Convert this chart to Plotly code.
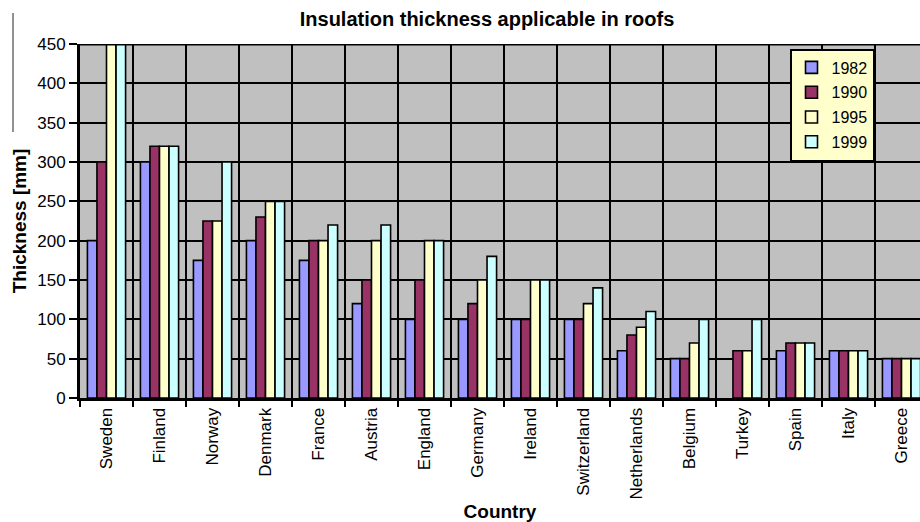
import plotly.graph_objects as go

countries = ["Sweden", "Finland", "Norway", "Denmark", "France", "Austria",
             "England", "Germany", "Ireland", "Switzerland", "Netherlands",
             "Belgium", "Turkey", "Spain", "Italy", "Greece"]

years = ["1982", "1990", "1995", "1999"]

t1982 = [200, 300, 175, 200, 175, 120, 100, 100, 100, 100, 60, 50, None, 60, 60, 50]
t1990 = [300, 320, 225, 230, 200, 150, 150, 120, 100, 100, 80, 50, 60, 70, 60, 50]
t1995 = [450, 320, 225, 250, 200, 200, 200, 150, 150, 120, 90, 70, 60, 70, 60, 50]
t1999 = [450, 320, 300, 250, 220, 220, 200, 180, 150, 140, 110, 100, 100, 70, 60, 50]

series = [t1982, t1990, t1995, t1999]
colors = ["#9999FF", "#993366", "#FFFFCC", "#CCFFFF"]

W, H = 920, 522
ML, MR, MT, MB = 80, 0, 44, 124
plot_w = W - ML - MR
plot_h = H - MT - MB
cat_px = 53.0  # width of one country slot

fig = go.Figure()
for name, vals, col in zip(years, series, colors):
    fig.add_trace(go.Bar(
        x=countries, y=vals, name=name, legendgroup=name,
        marker=dict(color=col, line=dict(color="black", width=1.6)),
    ))

font = "Arial, Liberation Sans, sans-serif"

fig.update_layout(
    width=W, height=H,
    margin=dict(l=ML, r=MR, t=MT, b=MB, pad=0, autoexpand=False),
    paper_bgcolor="white",
    plot_bgcolor="#C0C0C0",
    barmode="group", bargap=0.28, bargroupgap=0.0,
    font=dict(family=font, size=17, color="black"),
    title=dict(text="<b>Insulation thickness applicable in roofs</b>",
               font=dict(size=20, family=font, color="black"),
               x=(487 - ML) / plot_w, xref="paper", xanchor="center",
               y=1 - 19 / H, yref="container", yanchor="middle"),
    legend=dict(x=(790 - ML) / plot_w, y=(H - MB - 49) / plot_h,
                xanchor="left", yanchor="top",
                bgcolor="#FFFFCC", bordercolor="black", borderwidth=1.5,
                font=dict(size=16, family=font, color="black"),
                tracegroupgap=1, itemwidth=30),
    showlegend=True,
)

fig.update_xaxes(
    type="category", automargin=False,
    range=[-0.5, -0.5 + plot_w / cat_px],
    tickson="boundaries",
    showgrid=True, gridcolor="black", gridwidth=2,
    ticks="outside", ticklen=6, tickwidth=1.5, tickcolor="black",
    tickangle=-90, tickfont=dict(size=17, family=font),
    showline=True, linecolor="black", linewidth=3,
    title=dict(text="<b>Country</b>", font=dict(size=19, family=font), standoff=12),
)

fig.update_yaxes(
    range=[0, 450], dtick=50, tick0=0, automargin=False,
    showgrid=True, gridcolor="black", gridwidth=2,
    zeroline=False,
    ticks="outside", ticklen=8, tickwidth=1.5, tickcolor="black",
    tickfont=dict(size=17, family=font),
    showline=True, linecolor="black", linewidth=3,
    title=dict(text="<b>Thickness [mm]</b>", font=dict(size=19, family=font), standoff=6),
)

# heavy frame line along the top of the plotting area
fig.add_shape(type="line", xref="paper", yref="y", x0=0, x1=1, y0=450, y1=450,
              line=dict(color="black", width=3), layer="above")

# thin rule near the left edge of the page
fig.add_shape(type="line", xref="paper", yref="paper",
              x0=(13 - ML) / plot_w, x1=(13 - ML) / plot_w,
              y0=(H - MB - 13) / plot_h, y1=(H - MB - 132) / plot_h,
              line=dict(color="#222222", width=1))

fig.write_html("out.html")
